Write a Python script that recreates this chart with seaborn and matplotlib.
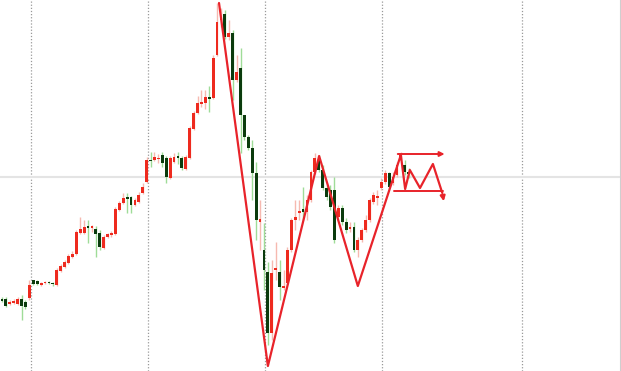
import numpy as np
import pandas as pd
import matplotlib
matplotlib.use("Agg")
import matplotlib.pyplot as plt
import seaborn as sns

# ---- candle data (price units) ----
opens = [72, 72, 67, 68, 67, 72, 69, 73, 91, 90, 86, 88, 89, 88, 86, 100, 104, 108, 114, 117,
         138, 138, 145, 143, 142, 138, 123, 134, 136, 137, 161, 168, 174, 174, 166, 169, 178, 189,
         211, 211, 212, 216, 213, 193, 209, 215, 213, 202, 213, 242, 258, 267, 268, 274, 273, 316,
         351, 357, 334, 338, 291, 303, 256, 234, 223, 198, 149, 121, 99, 38, 101, 99, 83, 88, 121,
         151, 158, 162, 159, 171, 199, 211, 201, 183, 181, 181, 154, 163, 149, 142, 144, 121, 131,
         141, 151, 169, 173, 183, 189, 198, 188, 196, 213, 206, 199]
closes = [70, 65, 69, 70, 72, 65, 64, 86, 87, 87, 88, 89, 88, 87, 101, 105, 109, 115, 117, 139,
          142, 144, 143, 145, 137, 124, 134, 137, 138, 162, 168, 173, 172, 166, 171, 176, 184, 211,
          210, 214, 213, 208, 194, 213, 214, 213, 203, 214, 243, 258, 268, 269, 274, 272, 313, 349,
          354, 334, 338, 291, 299, 256, 234, 223, 198, 151, 152, 101, 38, 98, 103, 84, 85, 121, 151,
          154, 160, 159, 171, 199, 213, 201, 183, 174, 164, 131, 163, 149, 141, 144, 121, 131, 141,
          151, 171, 176, 175, 189, 198, 184, 194, 206, 216, 199, 197]
highs = [74, 74, 71, 72, 74, 76, 71, 91, 91, 91, 89, 90, 90, 89, 103, 107, 111, 117, 120, 141,
         154, 151, 151, 146, 145, 141, 136, 138, 140, 164, 170, 178, 178, 175, 173, 179, 188, 214,
         219, 219, 217, 219, 215, 215, 218, 219, 215, 216, 245, 260, 275, 281, 281, 285, 316, 368,
         363, 361, 351, 341, 316, 323, 256, 236, 231, 209, 171, 148, 109, 111, 129, 111, 101, 124,
         153, 171, 171, 184, 176, 201, 218, 216, 206, 186, 186, 194, 166, 166, 153, 149, 149, 134,
         143, 156, 173, 179, 181, 193, 201, 199, 199, 209, 219, 211, 203]
lows = [69, 64, 66, 67, 66, 51, 62, 71, 86, 86, 85, 87, 87, 85, 85, 99, 103, 107, 113, 116, 137,
        137, 128, 139, 114, 121, 122, 133, 134, 136, 160, 167, 158, 158, 165, 168, 177, 188, 204,
        210, 208, 204, 188, 192, 208, 207, 201, 201, 212, 241, 257, 264, 262, 259, 272, 315, 344,
        332, 331, 271, 289, 218, 231, 221, 171, 131, 121, 81, 26, 31, 91, 71, 81, 86, 119, 141,
        151, 151, 151, 169, 197, 199, 181, 171, 161, 128, 151, 146, 138, 139, 119, 114, 129, 139,
        149, 167, 166, 181, 187, 182, 186, 194, 211, 196, 193]

# ---- annotation paths (candle index, price) ----
zig_x = [55.5, 68.0, 81.1, 91.0, 102.0, 103.1, 104.3, 106.9, 110.2, 112.6]
zig_y = [368, 5, 215, 85, 216, 182, 201, 183, 207, 178]
arrow_down = ((112.6, 178), (113.1, 167))
top_line = ((100.5, 217), (113.9, 217))
bottom_line = ((100.3, 180), (112.8, 180))

# gridlines (candle index positions)
grid_x = [7.4, 37.3, 67.3, 97.2, 133.0]
hline_price = 194

df = pd.DataFrame({"open": opens, "close": closes, "high": highs, "low": lows})
df["idx"] = np.arange(len(df))
df["up"] = df["close"] >= df["open"]

sns.set_theme(style="white")
fig = plt.figure(figsize=(6.21, 3.71), dpi=100)
ax = fig.add_axes([0, 0, 1, 1])

RED = "#ee2a1e"
DARK = "#0b3b0d"
PINK = "#f6b9b0"
LGREEN = "#9fdc98"

for x in grid_x:
    ax.axvline(x, color="#9a9a9a", lw=0.9, ls=(0, (1, 1.5)), zorder=1)
ax.axhline(hline_price, color="#e4e4e4", lw=1.5, zorder=1)

wick_colors = [PINK if u else LGREEN for u in df["up"]]
ax.vlines(df["idx"], df["low"], df["high"], colors=wick_colors, lw=1.0, zorder=2)
bottoms = np.minimum(df["open"], df["close"])
heights = np.maximum(np.abs(df["close"] - df["open"]), 1.5)
body_colors = [RED if u else DARK for u in df["up"]]
ax.bar(df["idx"], heights, bottom=bottoms, width=0.72, color=body_colors, linewidth=0, zorder=3)

zig = pd.DataFrame({"x": zig_x, "y": zig_y})
sns.lineplot(data=zig, x="x", y="y", sort=False, color="#e8232a", lw=1.6, ax=ax, zorder=5)
ax.annotate("", xy=arrow_down[1], xytext=arrow_down[0],
            arrowprops=dict(arrowstyle="-|>", color="#e8232a", lw=1.6, mutation_scale=7), zorder=5)
ax.annotate("", xy=top_line[1], xytext=top_line[0],
            arrowprops=dict(arrowstyle="-|>", color="#e8232a", lw=1.4, mutation_scale=7), zorder=5)
ax.plot([bottom_line[0][0], bottom_line[1][0]], [bottom_line[0][1], bottom_line[1][1]],
        color="#e8232a", lw=1.4, zorder=5)

ax.axvline(158.2, color="#cfcfcf", lw=1.5)
ax.set_xlim(-0.51, 158.3)
ax.set_ylim(0, 371)
ax.set_xlabel("")
ax.set_ylabel("")
ax.set_xticks([])
ax.set_yticks([])
for s in ax.spines.values():
    s.set_visible(False)

fig.savefig("out.png", dpi=100)
